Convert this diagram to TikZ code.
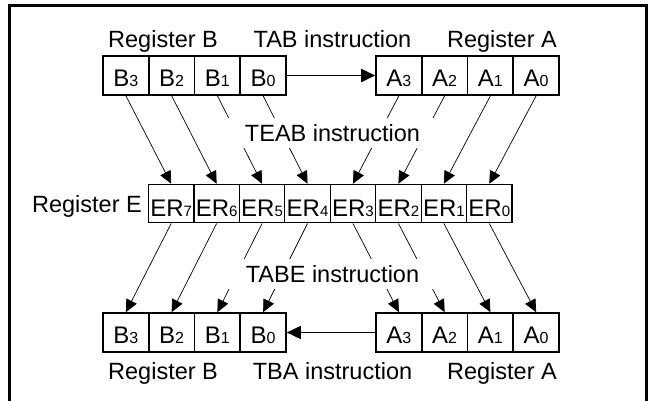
\documentclass[tikz,border=0pt]{standalone}
\usepackage{fontspec}
\setmainfont{Liberation Sans}
\usetikzlibrary{arrows.meta}
% small digit used as the bit index inside a register cell
\newcommand\regsub[1]{{\fontsize{16}{16}\selectfont #1}}
\newcommand\esub[1]{{\fontsize{15}{15}\selectfont #1}}
\begin{document}
\begin{tikzpicture}[x=1pt,y=-1pt,
  cellbox/.style={draw, line width=1.6pt, minimum width=45.75pt, minimum height=39pt,
    inner sep=0pt, font=\fontsize{24}{24}\selectfont, text height=23pt, text depth=0pt},
  ecell/.style={cellbox, line width=1.2pt, minimum width=45.44pt, minimum height=38.5pt,
    font=\fontsize{24}{24}\selectfont, text height=26pt},
  caption/.style={font=\fontsize{23.5}{23.5}\selectfont, inner sep=0pt},
  mask/.style={caption, fill=white, minimum width=250pt, minimum height=30pt,
    text height=16.8pt, text depth=0pt},
  flow/.style={line width=0.7pt, -{Triangle[length=12.5pt,width=11.5pt]}},
  move/.style={line width=1.8pt, -{Triangle[length=14pt,width=13pt]}}]
\useasboundingbox (0,0) rectangle (649,401);

% outer frame, open at the bottom
\draw[line width=2.7pt] (9.7,401) |- (646.7,5.3) -- (646.7,401);

% registers B and A (top), register E (middle), registers B and A (bottom)
\foreach \i [count=\k from 0] in {3,2,1,0} {
  \node[cellbox] (tb\i) at (125.9+45.75*\k, 75.5) {B\regsub{\i}};
  \node[cellbox] (ta\i) at (398.9+45.75*\k, 75.5) {A\regsub{\i}};
  \node[cellbox] (bb\i) at (125.9+45.75*\k, 332.5) {B\regsub{\i}};
  \node[cellbox] (ba\i) at (398.9+45.75*\k, 332.5) {A\regsub{\i}};
}
\foreach \i [count=\k from 0] in {7,6,5,4,3,2,1,0} {
  \node[ecell] (e\i) at (171.2+45.44*\k, 203.6) {ER\esub{\i}};
}

% TEAB: B, A -> E
\foreach \i/\j in {3/7,2/6,1/5,0/4} \draw[flow] (tb\i.south) -- (e\j.north);
\foreach \i/\j in {3/3,2/2,1/1,0/0} \draw[flow] (ta\i.south) -- (e\j.north);
% TABE: E -> B, A
\foreach \i/\j in {3/7,2/6,1/5,0/4} \draw[flow] (e\j.south) -- (bb\i.north);
\foreach \i/\j in {3/3,2/2,1/1,0/0} \draw[flow] (e\j.south) -- (ba\i.north);

% TAB and TBA transfers
\draw[move] (tb0.east) -- (ta3.west);
\draw[move] (ba3.west) -- (bb0.east);

% captions
\node[caption, anchor=base west] (rbtop) at (108,48) {Register B};
\node[caption, anchor=base] (tab) at (332.5,48) {TAB instruction};
\node[caption, anchor=base east] (ratop) at (557,48) {Register A};
\node[mask] (teab) at (332.5,133) {TEAB instruction};
\node[caption, anchor=base east] (rege) at (142,213) {Register E};
\node[mask] (tabe) at (332.5,274) {TABE instruction};
\node[caption, anchor=base west] (rbbot) at (108,380) {Register B};
\node[caption, anchor=base] (tba) at (332.5,380) {TBA instruction};
\node[caption, anchor=base east] (rabot) at (557,380) {Register A};
\end{tikzpicture}
\end{document}
